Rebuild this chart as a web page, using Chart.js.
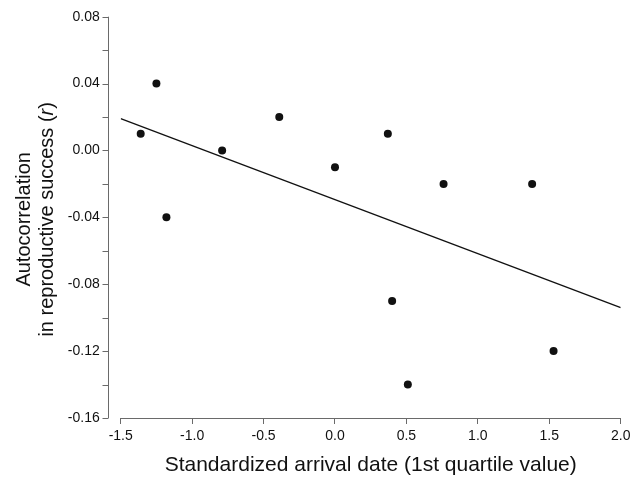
<!DOCTYPE html>
<html>
<head>
<meta charset="utf-8">
<script src="https://cdn.jsdelivr.net/npm/chart.js@4/dist/chart.umd.min.js"></script>
<style>
  html, body { margin: 0; padding: 0; background: #fff; }
  #wrap { width: 632px; height: 479px; position: relative; }
</style>
</head>
<body>
<div id="wrap"><canvas id="c" width="632" height="479"></canvas></div>
<script>
// ---- data ----
const arrivalDate = [-1.36, -1.25, -1.18, -0.79, -0.39, 0.00, 0.37, 0.40, 0.51, 0.76, 1.38, 1.53];
const autocorr    = [0.01, 0.04, -0.04, 0.00, 0.02, -0.01, 0.01, -0.09, -0.14, -0.02, -0.02, -0.12];
const fitX = [-1.5, 2.0];
const fitY = [0.019, -0.094];
const xTickValues = [-1.5, -1.0, -0.5, 0.0, 0.5, 1.0, 1.5, 2.0];
const yLabelledTicks = [0.08, 0.04, 0.00, -0.04, -0.08, -0.12, -0.16];

const FONT = '"Liberation Sans", Arial, Helvetica, sans-serif';
const AXIS_COLOR = '#6a6a6a';
const TEXT_COLOR = '#111';
const TITLE_SIZE = 20;
const X_TITLE_SIZE = 21;

const pointData = arrivalDate.map((x, i) => ({ x: x, y: autocorr[i] }));
const fitData = fitX.map((x, i) => ({ x: x, y: fitY[i] }));

// Y axis drawn offset to the left of the plot region (R style)
const offsetYAxis = {
  id: 'offsetYAxis',
  afterDraw(chart) {
    const ctx = chart.ctx;
    const ys = chart.scales.y;
    const axX = chart.chartArea.left - 12.5;
    ctx.save();
    ctx.strokeStyle = AXIS_COLOR;
    ctx.lineWidth = 1;
    ctx.beginPath();
    const top = ys.getPixelForValue(ys.max);
    const bot = ys.getPixelForValue(ys.min);
    ctx.moveTo(Math.round(axX) + 0.5, top);
    ctx.lineTo(Math.round(axX) + 0.5, bot);
    ys.ticks.forEach(t => {
      const py = Math.round(ys.getPixelForValue(t.value)) + 0.5;
      ctx.moveTo(Math.round(axX) + 0.5, py);
      ctx.lineTo(Math.round(axX) + 0.5 - 6, py);
    });
    ctx.stroke();

    // Y axis title (two lines, italic r)
    ctx.fillStyle = TEXT_COLOR;
    ctx.textBaseline = 'middle';
    const cy = (chart.chartArea.top + chart.chartArea.bottom) / 2 + 2;
    const normal = TITLE_SIZE + 'px ' + FONT;
    const italic = 'italic ' + TITLE_SIZE + 'px ' + FONT;

    ctx.save();
    ctx.translate(24, cy);
    ctx.rotate(-Math.PI / 2);
    ctx.font = normal;
    ctx.textAlign = 'center';
    ctx.fillText('Autocorrelation', 0, 0);
    ctx.restore();

    ctx.save();
    ctx.translate(47, cy);
    ctx.rotate(-Math.PI / 2);
    ctx.textAlign = 'left';
    const parts = [['in reproductive success (', normal], ['r', italic], [')', normal]];
    let total = 0;
    parts.forEach(p => { ctx.font = p[1]; total += ctx.measureText(p[0]).width; });
    let x = -total / 2;
    parts.forEach(p => { ctx.font = p[1]; ctx.fillText(p[0], x, 0); x += ctx.measureText(p[0]).width; });
    ctx.restore();

    ctx.restore();
  }
};

new Chart(document.getElementById('c'), {
  type: 'scatter',
  data: {
    datasets: [
      {
        label: 'points',
        data: pointData,
        backgroundColor: '#111',
        borderColor: '#111',
        pointRadius: 4,
        pointHoverRadius: 4,
        borderWidth: 0
      },
      {
        label: 'fit',
        type: 'line',
        data: fitData,
        borderColor: '#111',
        borderWidth: 1.3,
        pointRadius: 0,
        fill: false,
        tension: 0
      }
    ]
  },
  options: {
    responsive: false,
    animation: false,
    events: [],
    layout: { padding: { left: 0, right: 11.3, top: 16.7, bottom: 0 } },
    plugins: { legend: { display: false }, tooltip: { enabled: false } },
    scales: {
      x: {
        type: 'linear',
        min: -1.5,
        max: 2.0,
        afterBuildTicks(scale) { scale.ticks = xTickValues.map(v => ({ value: v })); },
        afterFit(scale) { scale.height = 61; scale.paddingLeft = 0; scale.paddingRight = 0; },
        grid: { display: true, drawOnChartArea: false, drawTicks: true, tickLength: 6, color: AXIS_COLOR, lineWidth: 1 },
        border: { display: true, color: AXIS_COLOR, width: 1 },
        ticks: {
          padding: 4,
          color: TEXT_COLOR,
          font: { family: FONT, size: 14 },
          maxRotation: 0,
          callback: v => Number(v).toFixed(1)
        },
        title: {
          display: true,
          text: 'Standardized arrival date (1st quartile value)',
          color: TEXT_COLOR,
          font: { family: FONT, size: X_TITLE_SIZE },
          padding: { top: 0, bottom: 1 }
        }
      },
      y: {
        type: 'linear',
        min: -0.16,
        max: 0.08,
        afterBuildTicks(scale) {
          const t = [];
          for (let i = 0; i <= 12; i++) t.push({ value: Math.round((0.08 - i * 0.02) * 100) / 100 });
          scale.ticks = t;
        },
        afterFit(scale) { scale.width = 120.7; scale.paddingTop = 0; scale.paddingBottom = 0; },
        grid: { display: false, drawTicks: false },
        border: { display: false },
        ticks: {
          padding: 21,
          color: TEXT_COLOR,
          font: { family: FONT, size: 14 },
          callback: v => {
            const r = Math.round(v * 100) / 100;
            return yLabelledTicks.some(l => Math.abs(l - r) < 1e-9) ? r.toFixed(2) : '';
          }
        }
      }
    }
  },
  plugins: [offsetYAxis]
});
</script>
</body>
</html>
